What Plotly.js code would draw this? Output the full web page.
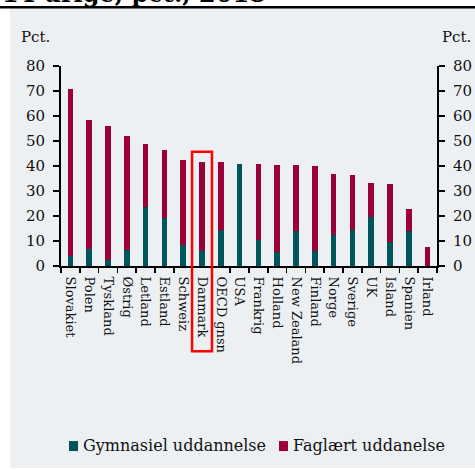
<!DOCTYPE html>
<html><head><meta charset="utf-8">
<script src="https://cdn.plot.ly/plotly-3.0.1.min.js"></script>
<style>html,body{margin:0;padding:0;background:#fff;}</style>
</head><body><div id="chart" style="width:475px;height:470px;"></div>
<script>
const categories = ["Slovakiet","Polen","Tyskland","Østrig","Letland","Estland","Schweiz","Danmark","OECD gnsn","USA","Frankrig","Holland","New Zealand","Finland","Norge","Sverige","UK","Island","Spanien","Irland"];
const gymnasiel = [3.9,7.0,2.6,6.5,23.5,19.1,8.4,6.1,14.6,41.0,10.5,5.5,14.1,5.9,12.5,14.6,19.8,9.6,14.1,0];
const total     = [71.0,58.3,56.0,52.0,48.9,46.6,42.4,41.7,41.7,41.0,40.8,40.6,40.4,40.0,36.9,36.4,33.1,32.8,23.0,7.5];
const faglaert = total.map((t,i)=>+(t-gymnasiel[i]).toFixed(1));
const yTicks = [0,10,20,30,40,50,60,70,80];
const seriesNames = ["Gymnasiel uddannelse","Faglært uddanelse"];

const FONT = "DejaVu Serif";
const GREEN = "#00555B", RED = "#9C0038", BG = "#ECF0F3";

const traces = [
  {type:"bar", name:seriesNames[0], x:categories, y:gymnasiel, marker:{color:GREEN}, hoverinfo:"skip"},
  {type:"bar", name:seriesNames[1], x:categories, y:faglaert, marker:{color:RED}, hoverinfo:"skip"},
  {type:"scatter", x:categories, y:total, yaxis:"y2", mode:"markers", marker:{opacity:0}, showlegend:false, hoverinfo:"skip"}
];

const W=475,H=470,L=61,R=38,T=66,B=203.5;
const pw=W-L-R, ph=H-T-B;
const px=(p)=> (p-L)/pw, py=(p)=> (H-B-p)/ph;

const yax = {range:[0,80], tickmode:"array", tickvals:yTicks, showline:true, linecolor:"#000", linewidth:2, ticks:"outside", ticklen:6, tickwidth:2, tickcolor:"#000", showgrid:false, zeroline:false, tickfont:{family:FONT,size:15,color:"#111"}, ticklabelstandoff:5, automargin:false, fixedrange:true};

const layout = {
  width:W, height:H,
  margin:{l:L,r:R,t:T,b:B},
  paper_bgcolor:"#ffffff", plot_bgcolor:"rgba(0,0,0,0)",
  font:{family:FONT, size:15, color:"#111"},
  barmode:"stack", bargap:0.7,
  showlegend:false,
  xaxis:{type:"category", range:[-0.5, categories.length-0.5], autorange:false, tickmode:"array", tickvals:categories, ticktext:categories, tickangle:90, showline:true, linecolor:"#000", linewidth:2, ticks:"outside", ticklen:5, tickcolor:"#000", tickwidth:1.5, tickson:"boundaries", showgrid:false, tickfont:{family:FONT,size:13,color:"#111"}, ticklabelstandoff:6, automargin:false, fixedrange:true},
  yaxis:Object.assign({}, yax),
  yaxis2:Object.assign({overlaying:"y", side:"right"}, yax),
  shapes:[
    {type:"rect", xref:"paper", yref:"paper", x0:px(10), x1:px(480), y0:py(469), y1:py(8), fillcolor:BG, line:{width:0}, layer:"below"},
    {type:"line", xref:"paper", yref:"paper", x0:px(0), x1:px(475), y0:py(7), y1:py(7), line:{color:"#000",width:2.5}},
    {type:"rect", xref:"x", yref:"paper", x0:6.47, x1:7.53, y0:py(352), y1:py(152), line:{color:"#FF0000",width:2.5}, fillcolor:"rgba(0,0,0,0)"},
    {type:"rect", xref:"paper", yref:"paper", x0:px(69), x1:px(78), y0:py(452), y1:py(442), fillcolor:GREEN, line:{width:0}},
    {type:"rect", xref:"paper", yref:"paper", x0:px(279), x1:px(288), y0:py(452), y1:py(442), fillcolor:RED, line:{width:0}}
  ],
  annotations:[
    {text:"Pct.", xref:"paper", yref:"paper", x:px(19), xanchor:"left", y:py(37), yanchor:"middle", showarrow:false, font:{family:FONT,size:15,color:"#111"}},
    {text:"Pct.", xref:"paper", yref:"paper", x:px(473), xanchor:"right", y:py(37), yanchor:"middle", showarrow:false, font:{family:FONT,size:15,color:"#111"}},
    {text:seriesNames[0], xref:"paper", yref:"paper", x:px(81), xanchor:"left", y:py(446), yanchor:"middle", showarrow:false, font:{family:FONT,size:16,color:"#111"}},
    {text:seriesNames[1], xref:"paper", yref:"paper", x:px(291), xanchor:"left", y:py(446), yanchor:"middle", showarrow:false, font:{family:FONT,size:16,color:"#111"}},
    {text:"<b>14-årige, pct., 2018</b>", xref:"paper", yref:"paper", x:px(268), xanchor:"right", y:py(10), yanchor:"bottom", showarrow:false, font:{family:FONT,size:24,color:"#000"}}
  ]
};

Plotly.newPlot("chart", traces, layout, {staticPlot:true, displayModeBar:false});
</script></body></html>
